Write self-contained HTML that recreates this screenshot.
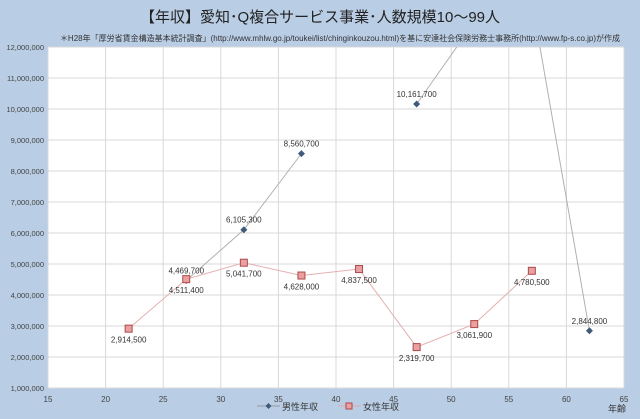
<!DOCTYPE html>
<html><head><meta charset="utf-8"><style>
body{margin:0;width:640px;height:419px;overflow:hidden;background:#b9cde5;font-family:"Liberation Sans","Noto Sans CJK JP",sans-serif}
svg{display:block}
</style></head><body>
<svg id="c" width="640" height="419">
<rect x="0" y="0" width="640" height="419" fill="#b9cde5"/>
<text x="320" y="22" text-anchor="middle" font-size="15" fill="#222" font-family="'Liberation Sans','Noto Sans CJK JP',sans-serif">【年収】愛知･Q複合サービス事業･人数規模10～99人</text>
<text x="340" y="41" text-anchor="middle" font-size="8" fill="#333" font-family="'Liberation Sans','Noto Sans CJK JP',sans-serif">＊H28年「厚労省賃金構造基本統計調査」(http://www.mhlw.go.jp/toukei/list/chinginkouzou.html)を基に安達社会保険労務士事務所(http://www.fp-s.co.jp)が作成</text>
<rect x="48" y="47" width="576" height="341" fill="#fff"/>
<defs><clipPath id="clip"><rect x="48" y="47" width="576" height="341"/></clipPath></defs>
<g id="grid"></g><g id="series" clip-path="url(#clip)"></g><g id="labels"></g>
<g>
<line x1="257" y1="406" x2="280" y2="406" stroke="#999"/>
<path d="M268.5,403 L271.5,406 L268.5,409 L265.5,406Z" fill="#3f5a7a"/>
<text x="282" y="410" font-size="9" fill="#333">男性年収</text>
<line x1="338" y1="406" x2="361" y2="406" stroke="#e0a8a8"/>
<rect x="346" y="403" width="6" height="6" fill="#e8a0a0" stroke="#b04848"/>
<text x="363" y="410" font-size="9" fill="#333">女性年収</text>
</g>
<text x="608" y="412" font-size="9" fill="#333">年齢</text>
</svg>
<script>
const ages=[22,27,32,37,42,47,52,57,62];
const male=[null,4469700,6105300,8560700,null,10161700,12800000,13500000,2844800];
const maleLabels=[null,"4,469,700","6,105,300","8,560,700",null,"10,161,700","","","2,844,800"];
const female=[2914500,4511400,5041700,4628000,4837500,2319700,3061900,4780500,null];
const femaleLabels=["2,914,500","4,511,400","5,041,700","4,628,000","4,837,500","2,319,700","3,061,900","4,780,500",""];
const xTicks=[15,20,25,30,35,40,45,50,55,60,65];
const yTicks=[1000000,2000000,3000000,4000000,5000000,6000000,7000000,8000000,9000000,10000000,11000000,12000000];
const X0=48,X1=624,Y0=388,Y1=47;
const xs=v=>X0+(v-15)/50*(X1-X0);
const ys=v=>Y0-(v-1000000)/11000000*(Y0-Y1);
const NS="http://www.w3.org/2000/svg";
function mk(tag,attrs,parent,text){const e=document.createElementNS(NS,tag);for(const k in attrs)e.setAttribute(k,attrs[k]);if(text!==undefined)e.textContent=text;parent.appendChild(e);return e;}
const grid=document.getElementById('grid'),ser=document.getElementById('series'),lab=document.getElementById('labels');
xTicks.forEach(t=>{
 const l=mk('line',{x1:xs(t),x2:xs(t),y1:Y1,y2:Y0,stroke:'#d9d9d9'},grid);
 
 
 const tx=mk('text',{x:xs(t),y:Y0+14,'text-anchor':'middle','font-size':'8',fill:'#444'},lab,String(t));
 
 
});
yTicks.forEach(t=>{
 const l=mk('line',{x1:X0,x2:X1,y1:ys(t),y2:ys(t),stroke:'#d9d9d9'},grid);
 
 
 const tx=mk('text',{x:X0-4,y:ys(t)+3,'text-anchor':'end','font-size':'7.5',fill:'#444'},lab,t.toLocaleString('en-US'));
 
 
});
function drawLine(vals,color,name){
 let seg=[];
 const flush=()=>{if(seg.length>1){const p=mk('polyline',{points:seg.join(' '),fill:'none',stroke:color,'stroke-width':'1'},ser);
  
  }seg=[];};
 vals.forEach((v,i)=>{if(v===null)flush();else seg.push(xs(ages[i])+','+ys(v));});flush();
}
drawLine(male,'#b0b0b0','male-line');
drawLine(female,'#e3b0b0','female-line');
male.forEach((v,i)=>{if(v===null)return;const x=xs(ages[i]),y=ys(v);
 const m=mk('path',{d:`M${x},${y-3.5} L${x+3.5},${y} L${x},${y+3.5} L${x-3.5},${y}Z`,fill:'#3f5a7a'},ser);
 
 
 if(maleLabels[i]){const t=mk('text',{x:x,y:y-7,'text-anchor':'middle','font-size':'8',fill:'#333'},lab,maleLabels[i]);
 
 }
});
female.forEach((v,i)=>{if(v===null)return;const x=xs(ages[i]),y=ys(v);
 const m=mk('rect',{x:x-3.5,y:y-3.5,width:7,height:7,fill:'#e8a0a0',stroke:'#b04848','stroke-width':'1'},ser);
 
 
 if(femaleLabels[i]){const t=mk('text',{x:x,y:y+14,'text-anchor':'middle','font-size':'8',fill:'#333'},lab,femaleLabels[i]);
 
 }
});
</script>
</body></html>
